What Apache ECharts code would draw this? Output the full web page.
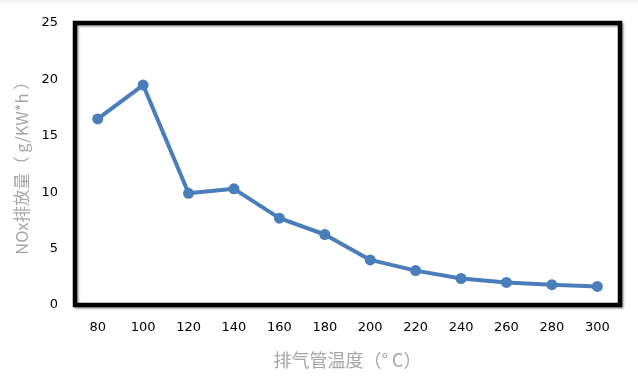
<!DOCTYPE html>
<html><head><meta charset="utf-8">
<script src="https://cdn.jsdelivr.net/npm/echarts@6/dist/echarts.min.js"></script>
<style>html,body{margin:0;padding:0;background:#fff}#c{width:638px;height:379px}</style>
</head><body><div id="c"></div>
<script>
const categories = ['80','100','120','140','160','180','200','220','240','260','280','300'];
const noxValues = [16.5, 19.5, 9.9, 10.3, 7.7, 6.25, 4.0, 3.05, 2.35, 2.0, 1.8, 1.65];
const yTicks = [0, 5, 10, 15, 20, 25];
const xName = '排气管温度（° C）';
const yName = 'NOx排放量（ g/KW*h ）';

const chart = echarts.init(document.getElementById('c'));
chart.setOption({
  animation: false,
  graphic: [{type:'rect', shape:{x:0,y:0,width:638,height:3}, style:{fill:'#f4f4f4'}, silent:true}],
  grid: {left:75, right:18, top:23, bottom:74, show:true, borderColor:'#000', borderWidth:4.5,
    shadowColor:'rgba(0,0,0,0.35)', shadowBlur:2, shadowOffsetX:1.5, shadowOffsetY:1.5, backgroundColor:'#fff'},
  xAxis: {type:'category', data:categories, boundaryGap:true,
    axisLine:{show:false}, axisTick:{show:false},
    axisLabel:{color:'#000', fontSize:13, fontFamily:'DejaVu Sans', margin:16},
    name:xName, nameLocation:'middle', nameGap:46,
    nameTextStyle:{color:'#a6a6a6', fontSize:18, fontFamily:'Noto Sans CJK SC'}},
  yAxis: {type:'value', min:yTicks[0], max:yTicks[yTicks.length-1], interval:5,
    axisLine:{show:false}, axisTick:{show:false}, splitLine:{show:false},
    axisLabel:{color:'#000', fontSize:13, fontFamily:'DejaVu Sans', margin:17},
    name:yName, nameLocation:'middle', nameGap:45, nameRotate:90,
    nameTextStyle:{color:'#a6a6a6', fontSize:16.5, fontFamily:'Noto Sans CJK SC'}},
  series: [{type:'line', data:noxValues, symbol:'circle', symbolSize:11,
    lineStyle:{color:'#4a7ebb', width:4}, itemStyle:{color:'#4a7ebb'}}]
});
</script></body></html>
